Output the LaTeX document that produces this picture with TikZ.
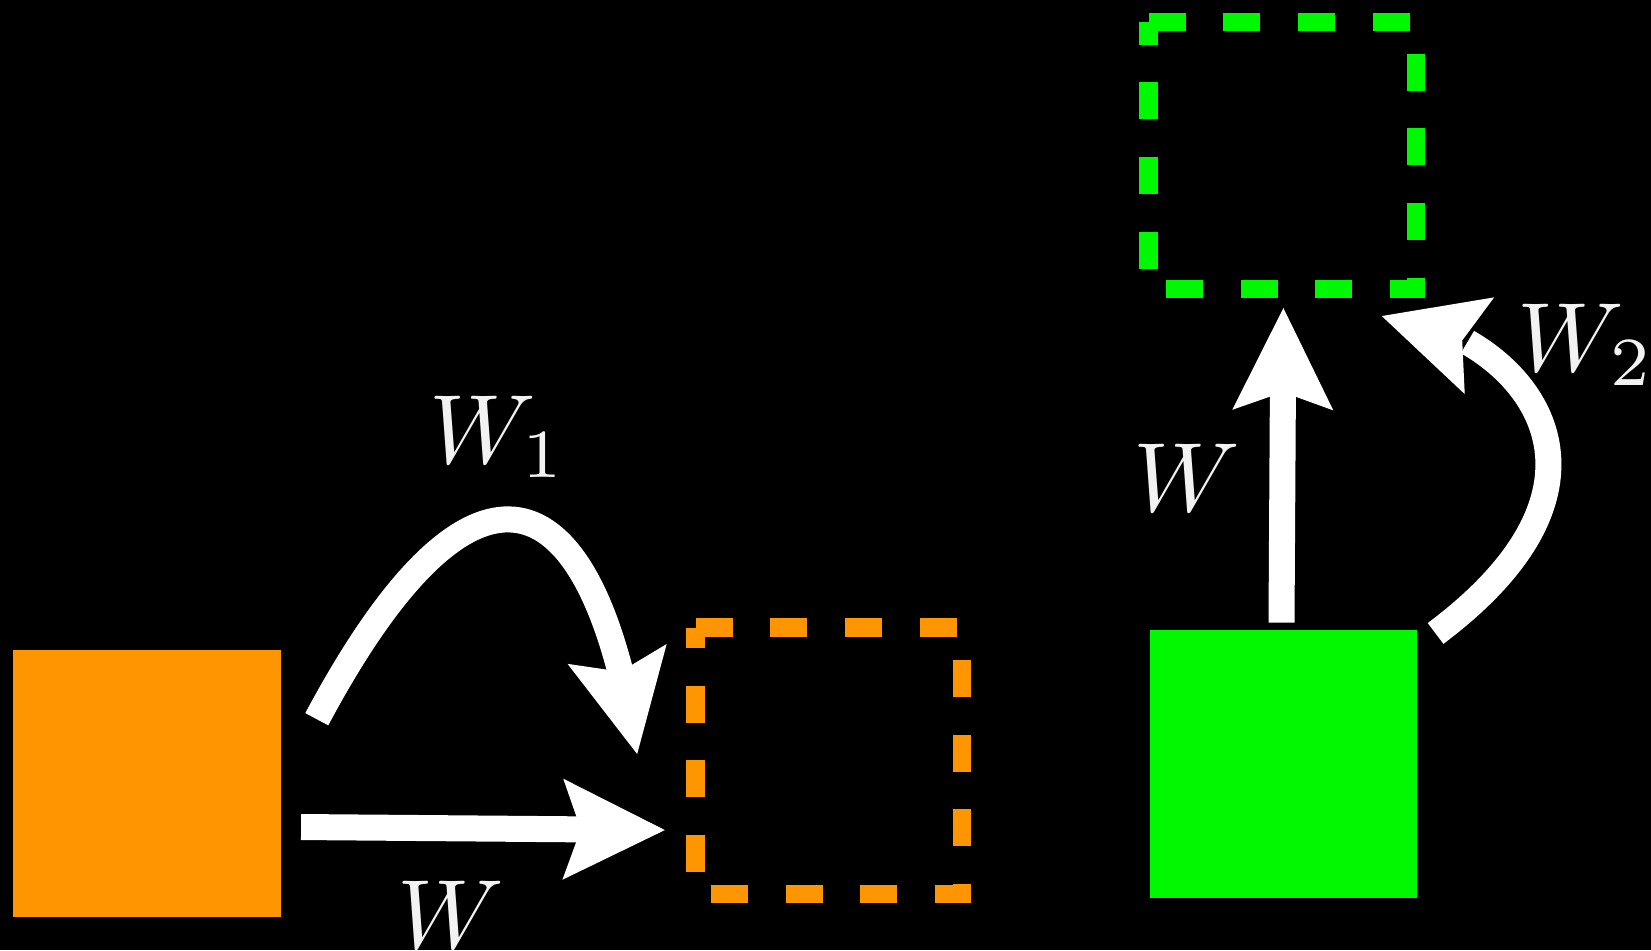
\documentclass[tikz,border=0pt]{standalone}
\usetikzlibrary{arrows.meta,bending}
\definecolor{orng}{RGB}{255,149,0}
\definecolor{grn}{RGB}{0,248,0}
\definecolor{lblc}{RGB}{242,242,242}
\begin{document}
\begin{tikzpicture}[x=0.01cm,y=-0.01cm,
  solidbox/.style={draw=none, minimum width=2.67cm, minimum height=2.67cm, inner sep=0pt, outer sep=0pt},
  ghostbox/.style={draw=none, minimum width=2.66cm, minimum height=2.665cm, inner sep=0pt, outer sep=0pt},
  dashbox/.style={line width=0.185cm, dash pattern=on 0.37cm off 0.376cm, dash phase=0cm},
  arr/.style={draw=white, line width=0.26cm,
    -{Stealth[length=1.02cm,width=1.01cm,inset=0.18cm,line width=0pt]}},
  carr/.style={draw=white, line width=0.26cm,
    -{Stealth[length=1.02cm,width=1.01cm,inset=0.18cm,line width=0pt,flex]}},
  lab/.style={text=lblc, scale=2.8, inner sep=0pt, anchor=base west}
]
\fill[black] (0,0) rectangle (1651,950);
\useasboundingbox (0,0) rectangle (1651,950);

% boxes
\node[solidbox, fill=orng, minimum width=2.68cm] (o) at (146.7,783.3) {};
\node[ghostbox] (od) at (828.75,760.85) {};
\draw[dashbox, draw=orng] (od.north west) -- (od.north east) -- (od.south east) -- (od.south west) -- cycle;
\node[solidbox, fill=grn] (g) at (1283.4,764) {};
\node[ghostbox, minimum width=2.67cm] (gd) at (1282.2,155.5) {};
\draw[dashbox, draw=grn] (gd.north west) -- (gd.north east) -- (gd.south east) -- (gd.south west) -- cycle;

% connectors
\draw[arr] ([shift={(20.3,43.7)}]o.east) -- ([shift={(-30.8,69.2)}]od.west);
\draw[carr] ([shift={(36,-64.1)}]o.east) .. controls +(150.4,-281.6) and +(-46.8,-296.4) .. ([shift={(-58.5,-6.85)}]od.west);
\draw[arr] ([shift={(-1.9,-7.8)}]g.north) -- ([shift={(1.2,19.2)}]gd.south);
\draw[carr] ([shift={(18.6,3)}]g.north east) .. controls +(228,-171) and +(112,4) .. ([shift={(-34,27.2)}]gd.south east);

% labels
\node[lab] (l1) at (428,463) {$W_1$};
\node[lab] (l2) at (396,948) {$W$};
\node[lab] (l3) at (1132,511) {$W$};
\node[lab] (l4) at (1516,371) {$W_2$};
\end{tikzpicture}
\end{document}
